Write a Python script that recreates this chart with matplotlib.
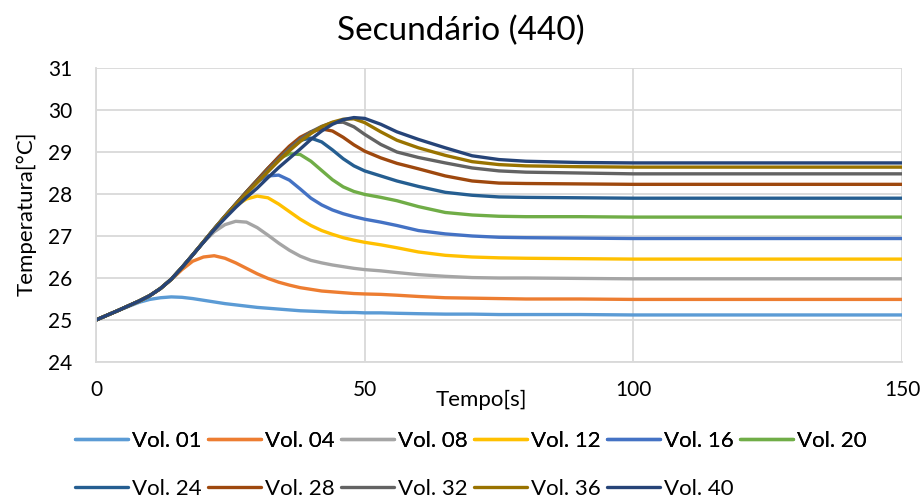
import numpy as np
import matplotlib
matplotlib.use('Agg')
import matplotlib.pyplot as plt

plt.rcParams['font.family'] = ['Lato', 'DejaVu Sans']

# time axis [s]
tempo = [0, 4, 8, 10, 12, 14, 16, 18, 20, 22, 24, 26, 28, 30, 32, 34, 36, 38, 40,
         42, 44, 46, 48, 50, 53, 56, 60, 65, 70, 75, 80, 90, 100, 125, 150]

# temperatures [C] per volume
vol01 = [25.00, 25.22, 25.42, 25.49, 25.53, 25.55, 25.54, 25.51, 25.47, 25.43, 25.39, 25.36, 25.33, 25.30, 25.28, 25.26, 25.24, 25.22, 25.21,
         25.20, 25.19, 25.18, 25.18, 25.17, 25.17, 25.16, 25.15, 25.14, 25.14, 25.13, 25.13, 25.13, 25.12, 25.12, 25.12]
vol04 = [25.00, 25.22, 25.45, 25.58, 25.75, 25.96, 26.20, 26.40, 26.50, 26.53, 26.47, 26.36, 26.23, 26.10, 25.99, 25.90, 25.83, 25.77, 25.73,
         25.69, 25.67, 25.65, 25.63, 25.62, 25.61, 25.59, 25.56, 25.53, 25.52, 25.51, 25.50, 25.50, 25.49, 25.49, 25.49]
vol08 = [25.00, 25.22, 25.45, 25.58, 25.75, 25.97, 26.25, 26.55, 26.85, 27.10, 27.27, 27.35, 27.33, 27.20, 27.02, 26.83, 26.66, 26.52, 26.42,
         26.36, 26.31, 26.27, 26.23, 26.20, 26.17, 26.13, 26.08, 26.04, 26.01, 26.00, 26.00, 25.99, 25.98, 25.98, 25.98]
vol12 = [25.00, 25.22, 25.45, 25.58, 25.75, 25.97, 26.25, 26.55, 26.86, 27.17, 27.46, 27.72, 27.88, 27.95, 27.91, 27.76, 27.58, 27.40, 27.25,
         27.13, 27.04, 26.96, 26.90, 26.85, 26.79, 26.72, 26.62, 26.54, 26.50, 26.48, 26.47, 26.46, 26.45, 26.45, 26.45]
vol16 = [25.00, 25.22, 25.45, 25.58, 25.75, 25.97, 26.25, 26.55, 26.86, 27.17, 27.47, 27.76, 28.04, 28.30, 28.43, 28.45, 28.33, 28.12, 27.90,
         27.74, 27.62, 27.53, 27.46, 27.40, 27.33, 27.25, 27.13, 27.05, 27.00, 26.97, 26.96, 26.95, 26.94, 26.94, 26.94]
vol20 = [25.00, 25.22, 25.45, 25.58, 25.75, 25.97, 26.25, 26.55, 26.86, 27.17, 27.47, 27.76, 28.05, 28.33, 28.61, 28.84, 28.96, 28.94, 28.78,
         28.56, 28.34, 28.17, 28.06, 27.99, 27.92, 27.84, 27.70, 27.56, 27.50, 27.47, 27.46, 27.46, 27.45, 27.45, 27.45]
vol24 = [25.00, 25.22, 25.45, 25.58, 25.75, 25.97, 26.25, 26.55, 26.86, 27.17, 27.47, 27.76, 28.05, 28.33, 28.61, 28.88, 29.13, 29.28, 29.33,
         29.24, 29.05, 28.84, 28.67, 28.55, 28.43, 28.31, 28.18, 28.04, 27.97, 27.93, 27.92, 27.91, 27.90, 27.90, 27.90]
vol28 = [25.00, 25.22, 25.45, 25.58, 25.75, 25.97, 26.25, 26.55, 26.86, 27.17, 27.47, 27.76, 28.05, 28.33, 28.61, 28.88, 29.14, 29.35, 29.48,
         29.55, 29.50, 29.35, 29.17, 29.02, 28.86, 28.73, 28.60, 28.43, 28.31, 28.26, 28.25, 28.24, 28.23, 28.23, 28.23]
vol32 = [25.00, 25.22, 25.45, 25.58, 25.75, 25.97, 26.25, 26.55, 26.86, 27.17, 27.47, 27.75, 28.03, 28.30, 28.57, 28.83, 29.08, 29.30, 29.48,
         29.61, 29.70, 29.71, 29.60, 29.42, 29.18, 29.00, 28.87, 28.74, 28.62, 28.55, 28.52, 28.50, 28.48, 28.48, 28.48]
vol36 = [25.00, 25.22, 25.45, 25.58, 25.75, 25.97, 26.25, 26.55, 26.86, 27.16, 27.46, 27.74, 28.01, 28.27, 28.53, 28.79, 29.03, 29.25, 29.44,
         29.60, 29.71, 29.78, 29.79, 29.70, 29.48, 29.28, 29.10, 28.92, 28.77, 28.70, 28.67, 28.65, 28.64, 28.64, 28.64]
vol40 = [25.00, 25.22, 25.45, 25.58, 25.75, 25.97, 26.25, 26.55, 26.85, 27.15, 27.42, 27.68, 27.92, 28.14, 28.39, 28.63, 28.85, 29.07, 29.30,
         29.50, 29.66, 29.77, 29.82, 29.80, 29.66, 29.48, 29.30, 29.10, 28.91, 28.82, 28.78, 28.75, 28.74, 28.74, 28.74]

nomes = ['Vol. 01', 'Vol. 04', 'Vol. 08', 'Vol. 12', 'Vol. 16', 'Vol. 20',
         'Vol. 24', 'Vol. 28', 'Vol. 32', 'Vol. 36', 'Vol. 40']
series = [vol01, vol04, vol08, vol12, vol16, vol20, vol24, vol28, vol32, vol36, vol40]
cores = ['#5B9BD5', '#ED7D31', '#A5A5A5', '#FFC000', '#4472C4', '#70AD47',
         '#255E91', '#9E480E', '#636363', '#997300', '#264478']

fig = plt.figure(figsize=(9.24, 4.98), dpi=100)
ax = fig.add_axes([96/924, 1-362/498, 806/924, 294/498])

linhas = []
for y, nome, cor in zip(series, nomes, cores):
    l, = ax.plot(tempo, y, color=cor, lw=2.4, label=nome,
                 solid_capstyle='round', solid_joinstyle='round')
    linhas.append(l)

ax.set_xlim(0, 150)
ax.set_ylim(24, 31)
ax.set_xticks([0, 50, 100, 150])
ax.set_yticks(range(24, 32))
ax.grid(True, color='#D9D9D9', lw=1.3)
ax.set_axisbelow(True)
for s in ['top', 'right']:
    ax.spines[s].set_visible(False)
for s in ['left', 'bottom']:
    ax.spines[s].set_color('#D9D9D9')
    ax.spines[s].set_linewidth(1.3)
ax.tick_params(length=0, labelsize=15, colors='black')
ax.tick_params(axis='x', pad=13)
ax.tick_params(axis='y', pad=17)

fig.text(461/924, 1-31/498, 'Secundário (440)', ha='center', va='center', fontsize=24)
fig.text(27/924, 1-214/498, 'Temperatura[°C]', ha='center', va='center', rotation=90, fontsize=16)
fig.text(481/924, 1-400/498, 'Tempo[s]', ha='center', va='center', fontsize=16)

# two legend rows, same column layout
estilo = dict(frameon=False, fontsize=16, handlelength=2.4, handletextpad=0.18,
              columnspacing=0.27, borderpad=0, borderaxespad=0, loc='center left')
leg1 = fig.legend(linhas[:6], nomes[:6], ncol=6, bbox_to_anchor=(75/924, 1-441/498), **estilo)
fig.add_artist(leg1)
leg2 = fig.legend(linhas[6:], nomes[6:], ncol=5, bbox_to_anchor=(75/924, 1-489/498), **estilo)

fig.savefig('out.png', dpi=100)
